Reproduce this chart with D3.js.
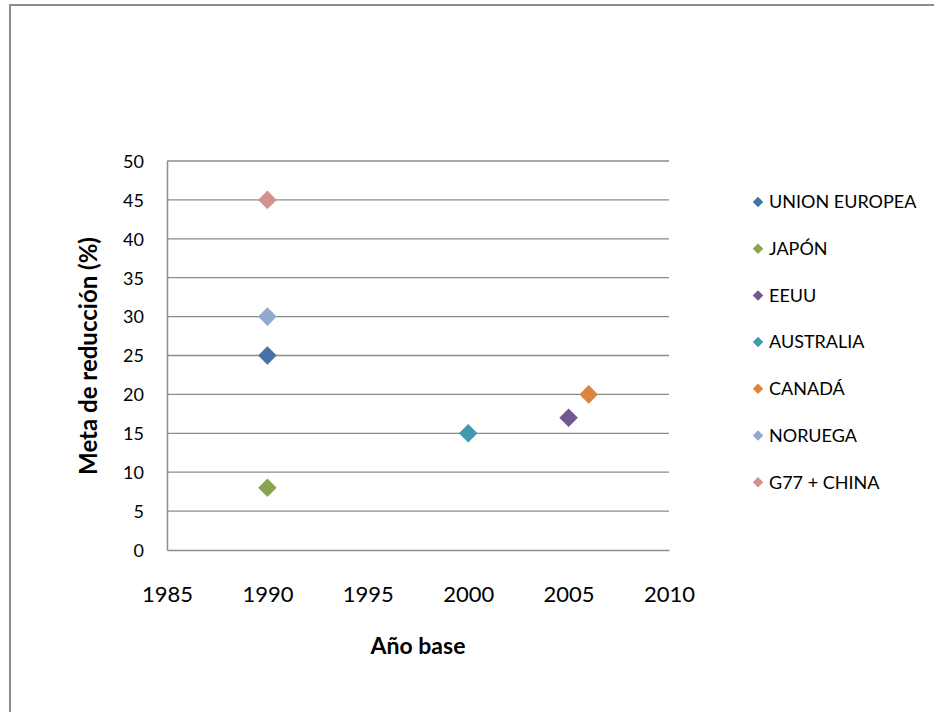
<!DOCTYPE html>
<html>
<head>
<meta charset="utf-8">
<script src="https://cdn.jsdelivr.net/npm/d3@7"></script>
<style>
    body { margin: 0; background: #fff; }
    svg text { font-family: Lato, 'Noto Sans', sans-serif; fill: #000; }
</style>
</head>
<body>
<svg id="chart" width="934" height="712"></svg>
<script>
// data
const countries = ['UNION EUROPEA', 'JAPÓN', 'EEUU', 'AUSTRALIA', 'CANADÁ', 'NORUEGA', 'G77 + CHINA'];
const baseYears = [1990, 1990, 2005, 2000, 2006, 1990, 1990];
const reductionTargets = [25, 8, 17, 15, 20, 30, 45];
const seriesColors = ['#4572a7', '#89a54e', '#71588f', '#4198af', '#db843d', '#93a9cf', '#d19392'];
const xTicks = [1985, 1990, 1995, 2000, 2005, 2010];
const yTicks = [0, 5, 10, 15, 20, 25, 30, 35, 40, 45, 50];

const svg = d3.select('#chart');

// outer frame, runs off the right and bottom edges
svg.append('rect')
    .attr('x', 10)
    .attr('y', 5)
    .attr('width', 940)
    .attr('height', 720)
    .attr('fill', 'none')
    .attr('stroke', '#8c8c8c')
    .attr('stroke-width', 2);

const plot = { left: 167, right: 669, top: 161, bottom: 550 };

const x = d3.scaleLinear().domain([1985, 2010]).range([plot.left, plot.right]);
const y = d3.scaleLinear().domain([0, 50]).range([plot.bottom, plot.top]);

// horizontal gridlines
svg.append('g')
    .selectAll('line')
    .data(yTicks.filter((d) => d > 0))
    .join('line')
    .attr('x1', plot.left)
    .attr('x2', plot.right)
    .attr('y1', (d) => y(d))
    .attr('y2', (d) => y(d))
    .attr('stroke', '#8c8c8c')
    .attr('stroke-width', 1.3);

// y axis
const yAxis = svg.append('g')
    .attr('transform', `translate(${ plot.left }, 0)`)
    .call(d3.axisLeft(y).tickValues(yTicks).tickSize(0).tickPadding(23));
yAxis.select('.domain').attr('stroke', '#8c8c8c').attr('stroke-width', 1.5);
yAxis.selectAll('text').style('font-size', '18px').attr('dy', '0.35em');

// x axis
const xAxis = svg.append('g')
    .attr('transform', `translate(0, ${ plot.bottom })`)
    .call(d3.axisBottom(x).tickValues(xTicks).tickFormat(d3.format('d')).tickSize(0).tickPadding(36));
xAxis.select('.domain').attr('stroke', '#8c8c8c').attr('stroke-width', 1.5);
xAxis.selectAll('text').style('font-size', '22px');

// axis titles
svg.append('text')
    .text('Año base')
    .attr('x', 418)
    .attr('y', 654)
    .attr('text-anchor', 'middle')
    .style('font-size', '23px')
    .style('font-weight', 'bold');

svg.append('text')
    .text('Meta de reducción (%)')
    .attr('transform', 'translate(97, 356) rotate(-90)')
    .attr('text-anchor', 'middle')
    .style('font-size', '24px')
    .style('font-weight', 'bold');

// points
const points = countries.map((name, i) => ({
    name,
    year: baseYears[i],
    value: reductionTargets[i],
    color: seriesColors[i],
}));

const bigDiamond = d3.symbol().type(d3.symbolDiamond2).size(220);
svg.append('g')
    .selectAll('path')
    .data(points)
    .join('path')
    .attr('d', bigDiamond)
    .attr('transform', (d) => `translate(${ x(d.year) }, ${ y(d.value) })`)
    .attr('fill', (d) => d.color);

// legend
const legendTop = 202;
const legendStep = 46.7;
const legend = svg.append('g')
    .selectAll('g')
    .data(points)
    .join('g')
    .attr('transform', (d, i) => `translate(758, ${ legendTop + i * legendStep })`);

legend.append('path')
    .attr('d', d3.symbol().type(d3.symbolDiamond2).size(70))
    .attr('fill', (d) => d.color);

legend.append('text')
    .text((d) => d.name)
    .attr('x', 11)
    .attr('dy', '0.35em')
    .style('font-size', '18px');
</script>
</body>
</html>
